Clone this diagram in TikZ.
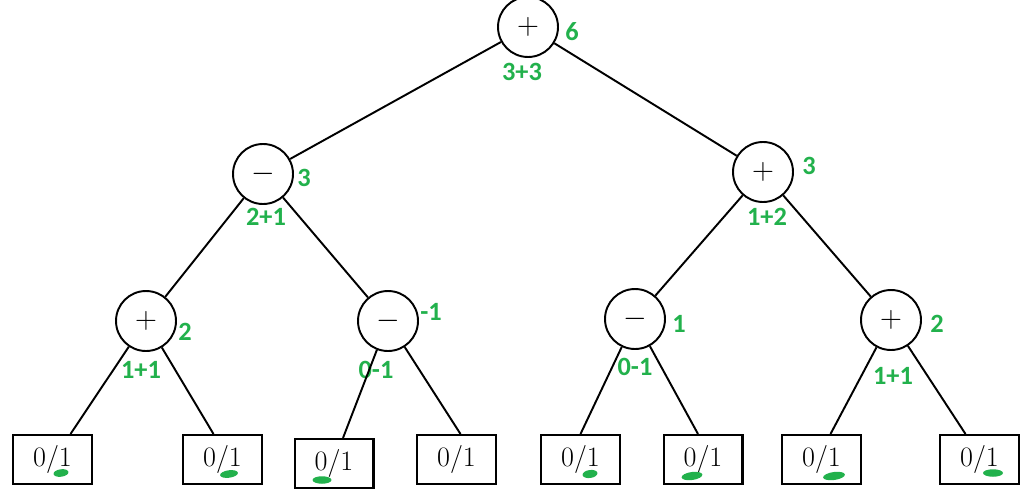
\documentclass[tikz,border=0pt]{standalone}
\usepackage{fontspec}
\newfontfamily\lblfont{Carlito}
\definecolor{lgreen}{HTML}{22B14C}
\begin{document}
\begin{tikzpicture}[x=0.02cm,y=-0.02cm,
  op/.style={circle,draw,line width=1.1pt,minimum size=1.2cm,inner sep=0pt,font=\fontsize{18}{20}\selectfont},
  leaf/.style={draw,line width=1.15pt,minimum width=1.58cm,minimum height=0.98cm,inner sep=0pt,font=\fontsize{16}{18}\selectfont},
  val/.style={text=lgreen,inner sep=0pt,font=\lblfont\bfseries\fontsize{15}{17}\selectfont},
  edge/.style={line width=1.1pt},
  blob/.style={fill=lgreen}]
\useasboundingbox (0,0) rectangle (1024,500);
% operator nodes
\node[op] (root) at (528,27) {$+$};
\node[op] (L) at (263,174) {$-$};
\node[op] (R) at (763,172) {$+$};
\node[op] (LL) at (146,321) {$+$};
\node[op] (LR) at (388,321) {$-$};
\node[op] (RL) at (635,319) {$-$};
\node[op] (RR) at (891,320) {$+$};
% leaves
\node[leaf] (b1) at (52.5,459.5) {0/1};
\node[leaf] (b2) at (222.5,459.5) {0/1};
\node[leaf] (b3) at (334,463.5) {0/1};
\node[leaf] (b4) at (456.5,459.5) {0/1};
\node[leaf] (b5) at (580.5,459.5) {0/1};
\node[leaf] (b6) at (703,459.5) {0/1};
\node[leaf] (b7) at (821.5,459.5) {0/1};
\node[leaf] (b8) at (979.5,459.5) {0/1};
% value labels
\node[val] (v0) at (572,32) {6};
\node[val] (e0) at (522,72) {3+3};
\node[val] (v1) at (304,178) {3};
\node[val] (e1) at (266,217) {2+1};
\node[val] (v2) at (809,166) {3};
\node[val] (e2) at (767,217) {1+2};
\node[val] (v3) at (185,332) {2};
\node[val] (e3) at (141,370) {1+1};
\node[val] (v4) at (431,312) {-1};
\node[val] (e4) at (376,370) {0-1};
\node[val] (v5) at (679,324) {1};
\node[val] (e5) at (635,367) {0-1};
\node[val] (v6) at (937,324) {2};
\node[val] (e6) at (893,376) {1+1};
% edges
\draw[edge] (root) -- (L);
\draw[edge] (root) -- (R);
\draw[edge] (L) -- (LL);
\draw[edge] (L) -- (LR);
\draw[edge] (R) -- (RL);
\draw[edge] (R) -- (RR);
\draw[edge] (LL) -- ([xshift=0.36cm]b1.north);
\draw[edge] (LL) -- ([xshift=-0.18cm]b2.north);
\draw[edge] (LR) -- ([xshift=0.18cm]b3.north);
\draw[edge] (LR) -- ([xshift=0.08cm]b4.north);
\draw[edge] (RL) -- ([xshift=0cm]b5.north);
\draw[edge] (RL) -- ([xshift=-0.1cm]b6.north);
\draw[edge] (RR) -- ([xshift=0.18cm]b7.north);
\draw[edge] (RR) -- ([xshift=-0.28cm]b8.north);
% green underline marks
\fill[blob,rotate around={8:(61,473)}] (61,473) ellipse [x radius=0.15cm,y radius=0.075cm];
\fill[blob,rotate around={8:(229,474)}] (229,474) ellipse [x radius=0.18cm,y radius=0.075cm];
\fill[blob] (322,480) ellipse [x radius=0.19cm,y radius=0.075cm];
\fill[blob,rotate around={8:(590,474)}] (590,474) ellipse [x radius=0.15cm,y radius=0.08cm];
\fill[blob,rotate around={8:(692,476)}] (692,476) ellipse [x radius=0.21cm,y radius=0.08cm];
\fill[blob,rotate around={8:(834,476)}] (834,476) ellipse [x radius=0.22cm,y radius=0.08cm];
\fill[blob] (993,473) ellipse [x radius=0.2cm,y radius=0.075cm];
\end{tikzpicture}
\end{document}
